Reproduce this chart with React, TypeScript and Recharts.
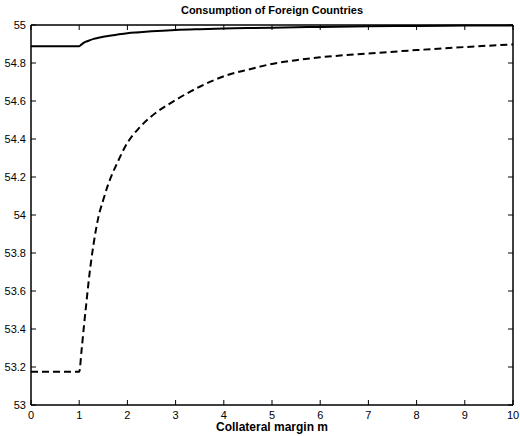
import { ComposedChart, Line, XAxis, YAxis, ReferenceArea } from "recharts";

// collateral margin m
const margins = [0, 1, 1.05, 1.1, 1.15, 1.2, 1.3, 1.4, 1.5, 1.6, 1.8, 2, 2.25, 2.5, 3, 3.5, 4, 4.5, 5, 5.5, 6, 7, 8, 9, 10];
const solidSeries = [54.888, 54.888, 54.898, 54.907, 54.913, 54.918, 54.927, 54.933, 54.938, 54.942, 54.95, 54.957, 54.962, 54.967, 54.974, 54.978, 54.981, 54.984, 54.986, 54.988, 54.99, 54.993, 54.995, 54.997, 54.998];
const dashedSeries = [53.175, 53.175, 53.29, 53.42, 53.54, 53.66, 53.85, 53.99, 54.08, 54.16, 54.28, 54.38, 54.46, 54.52, 54.605, 54.675, 54.73, 54.765, 54.795, 54.815, 54.83, 54.85, 54.868, 54.884, 54.898];
const xTicks = [0, 1, 2, 3, 4, 5, 6, 7, 8, 9, 10];
const yTicks = [53, 53.2, 53.4, 53.6, 53.8, 54, 54.2, 54.4, 54.6, 54.8, 55];

const data = margins.map((m, i) => ({ m, solid: solidSeries[i], dashed: dashedSeries[i] }));

const font = "'Liberation Sans', Arial, sans-serif";
const tickStyle = { fill: "#000", fontSize: 11, fontFamily: font };
const noLabel = () => <g />;

export default function App() {
  return (
    <div style={{ position: "absolute", left: 0, top: 0, width: 520, height: 436, background: "#fff" }}>
      <ComposedChart width={520} height={436} data={data} margin={{ top: 24, right: 6, bottom: 0, left: 0 }}>
        <XAxis
          dataKey="m"
          type="number"
          domain={[0, 10]}
          ticks={xTicks}
          height={31}
          tickSize={-5}
          tickMargin={11}
          tick={tickStyle}
          axisLine={{ stroke: "#000" }}
          tickLine={{ stroke: "#000" }}
        />
        <XAxis
          xAxisId="top"
          dataKey="m"
          orientation="top"
          type="number"
          domain={[0, 10]}
          ticks={xTicks}
          height={1}
          tickSize={-5}
          tick={noLabel}
          axisLine={{ stroke: "#000" }}
          tickLine={{ stroke: "#000" }}
        />
        <YAxis
          type="number"
          domain={[53, 55]}
          ticks={yTicks}
          width={31}
          tickSize={-5}
          tickMargin={10}
          tick={tickStyle}
          axisLine={{ stroke: "#000" }}
          tickLine={{ stroke: "#000" }}
        />
        <YAxis
          yAxisId="right"
          orientation="right"
          type="number"
          domain={[53, 55]}
          ticks={yTicks}
          width={1}
          tickSize={-5}
          tick={noLabel}
          axisLine={{ stroke: "#000" }}
          tickLine={{ stroke: "#000" }}
        />
        <ReferenceArea x1={0} x2={10} y1={53} y2={55} fill="none" stroke="#000" strokeWidth={1} />
        <Line dataKey="solid" type="monotone" stroke="#000" strokeWidth={2} dot={false} isAnimationActive={false} />
        <Line dataKey="dashed" type="monotone" stroke="#000" strokeWidth={2} strokeDasharray="7 4" dot={false} isAnimationActive={false} />
        <Line xAxisId="top" yAxisId="right" dataKey="dashed" stroke="none" dot={false} legendType="none" isAnimationActive={false} />
      </ComposedChart>
      <div style={{ position: "absolute", left: 31, width: 482, top: 4, textAlign: "center", fontFamily: font, fontWeight: "bold", fontSize: 11 }}>
        Consumption of Foreign Countries
      </div>
      <div style={{ position: "absolute", left: 31, width: 482, top: 420, textAlign: "center", fontFamily: font, fontWeight: "bold", fontSize: 12 }}>
        Collateral margin m
      </div>
    </div>
  );
}
